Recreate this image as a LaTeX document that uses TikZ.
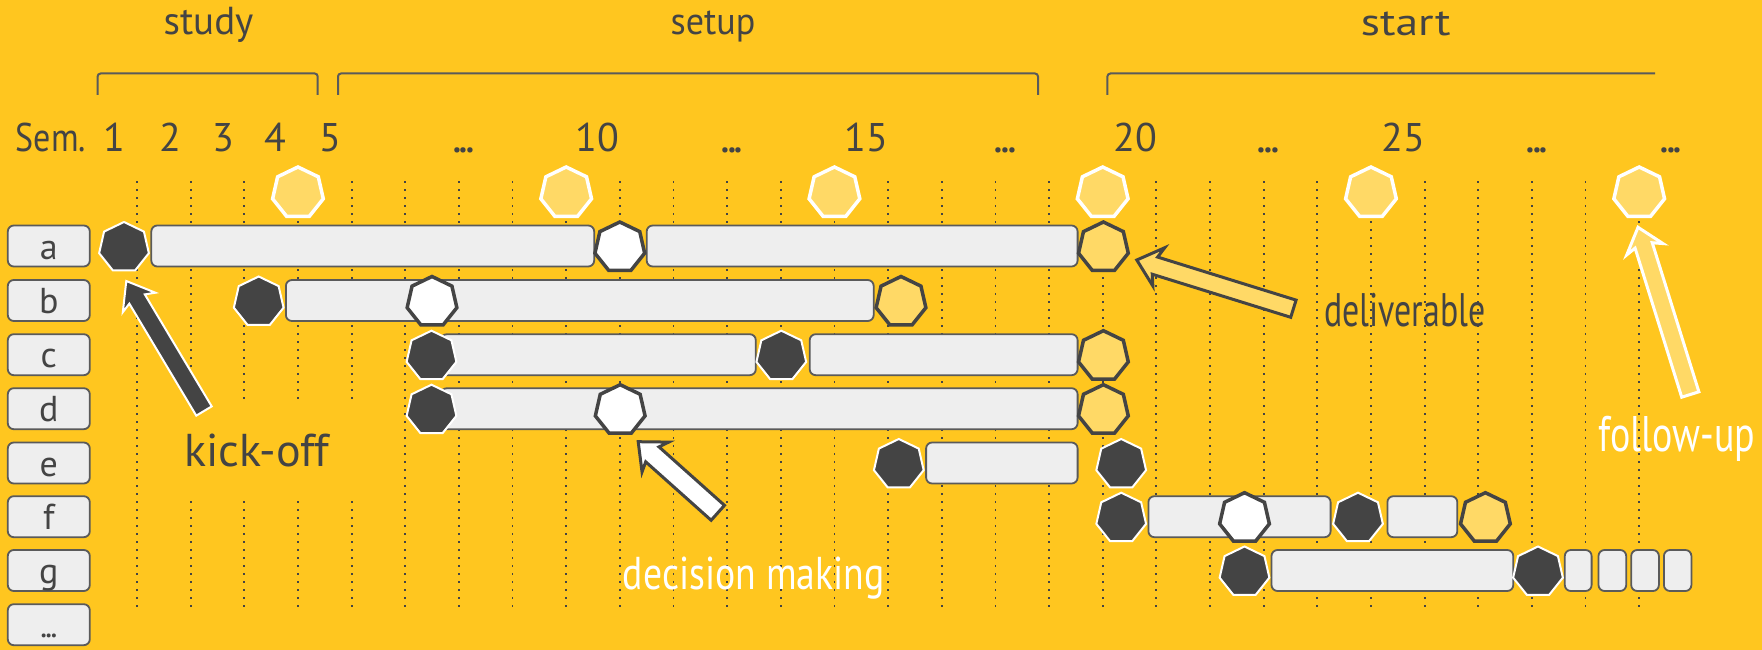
\documentclass[tikz,border=0pt]{standalone}
\usepackage{fontspec}
\usepackage{graphicx}
\setmainfont{PT Sans}
\usetikzlibrary{shapes.geometric,calc}
\definecolor{bg}{HTML}{FFC61F}
\definecolor{ly}{HTML}{FFD966}
\definecolor{dk}{HTML}{444444}
\definecolor{barfill}{HTML}{EEEEEE}
\definecolor{edge}{HTML}{5A5A5A}
\newcommand\myfs[1]{\fontsize{#1}{#1}\selectfont}
\newcommand\mydots[2]{{\myfs{#1}.\kern#2.\kern#2.}}
% block arrow: style, prefix (uses prefix-t tail, prefix-h tip), half shaft, half head, join dist, wing dist
\newcommand\blockarrow[6]{%
  \coordinate (#2-j) at ($(#2-h)!#5!(#2-t)$);
  \coordinate (#2-w) at ($(#2-h)!#6!(#2-t)$);
  \path[#1] ($(#2-t)!#3!90:(#2-h)$) -- ($(#2-j)!#3!90:(#2-h)$) -- ($(#2-w)!#4!90:(#2-h)$) -- (#2-h)
     -- ($(#2-w)!#4!-90:(#2-h)$) -- ($(#2-j)!#3!-90:(#2-h)$) -- ($(#2-t)!#3!-90:(#2-h)$) -- cycle;}
\begin{document}
\begin{tikzpicture}[x=1pt,y=-1pt,
 gridline/.style={draw=dk, line width=1.8pt, dash pattern=on 1.8pt off 6.2pt},
 brk/.style={draw=edge, line width=2pt, rounded corners=3pt},
 txt/.style={text=dk, inner sep=0pt},
 wtxt/.style={text=white, inner sep=0pt},
 lbl/.style={draw=edge, fill=barfill, line width=1.8pt, rounded corners=6pt, minimum width=82pt, minimum height=41pt, text height=26pt, text depth=0pt, inner sep=0pt, text=dk, font=\myfs{36}},
 bar/.style={draw=edge, fill=barfill, line width=1.8pt, rounded corners=6pt, minimum height=41pt, inner sep=0pt, anchor=west},
 hp/.style={regular polygon, regular polygon sides=7, minimum size=51pt, inner sep=0pt},
 hdark/.style={hp, fill=dk, draw=white, line width=2pt},
 hwhite/.style={hp, fill=white, draw=dk, line width=3.5pt},
 hyel/.style={hp, fill=ly, draw=dk, line width=3.5pt},
 htop/.style={hp, fill=ly, draw=white, line width=3.5pt, minimum size=52pt},
 akick/.style={fill=dk, draw=white, line width=2pt},
 adeliv/.style={fill=ly, draw=dk, line width=3pt},
 adecis/.style={fill=white, draw=dk, line width=3pt},
 afollow/.style={fill=ly, draw=white, line width=3pt}
]
\fill[bg] (0,0) rectangle (1762,650);
\useasboundingbox (0,0) rectangle (1762,650);

% grid
\foreach \k in {0,...,28}
  \draw[gridline] ({137+53.65*\k},181) -- ({137+53.65*\k},607);

% phase brackets
\draw[brk] (97.6,95) -- (97.6,73.5) -- (317.7,73.5) -- (317.7,95);
\draw[brk] (338,95) -- (338,73.5) -- (1038,73.5) -- (1038,95);
\draw[brk] (1107.4,95) -- (1107.4,73.5) -- (1655,73.5);

% phase titles
\node[txt, anchor=base] (pstudy) at (208.5,35) {\myfs{39}study};
\node[txt, anchor=base] (psetup) at (713,35) {\myfs{38}\scalebox{0.95}[1]{setup}};
\node[txt, anchor=base] (pstart) at (1405.7,36) {\myfs{38}\scalebox{1.2}[1]{start}};

% semester axis
\node[txt, anchor=base] (sem) at (51,152) {\myfs{40}\scalebox{0.85}[1]{Sem.}};
\foreach \n/\x in {1/114.8, 2/170, 3/223, 4/275.5, 5/330, 10/597, 15/866, 20/1135.6, 25/1403}
  \node[txt, anchor=base] (s\n) at (\x,152) {\myfs{40}\n};
\foreach \i/\x in {1/463.8, 2/732, 3/1005.5, 4/1268.6, 5/1537, 6/1671}
  \node[txt, anchor=base] (sd\i) at (\x,153) {\mydots{46}{-3pt}};

% top deliverable markers
\foreach \i/\k in {1/3, 2/8, 3/13, 4/18, 5/23, 6/28}
  \node[htop] (top\i) at ({137+53.65*\k},193) {};

% row labels
\node[lbl] (ra) at (48.8,246) {a};
\node[lbl] (rb) at (48.8,300.5) {b};
\node[lbl] (rc) at (48.8,354.7) {c};
\node[lbl] (rd) at (48.8,408.7) {d};
\node[lbl] (re) at (48.8,463) {e};
\node[lbl] (rf) at (48.8,516.7) {f};
\node[lbl] (rg) at (48.8,570.5) {g};
\node[lbl] (rh) at (48.8,624.7) {\mydots{34}{-2.2pt}};

% kick-off label (covers grid)
\node[txt, fill=bg, minimum width=220pt, minimum height=100pt] (lkick) at (257,450.5) {\myfs{46}kick-off};

% bars
\node[bar, minimum width=442.9pt] (ba1) at (150.4,246) {};
\node[bar, minimum width=430.9pt] (ba2) at (645.8,246) {};
\node[bar, minimum width=587.8pt] (bb1) at (285,300.5) {};
\node[bar, minimum width=314.9pt] (bc1) at (440,354.7) {};
\node[bar, minimum width=267.9pt] (bc2) at (808.8,354.7) {};
\node[bar, minimum width=636.7pt] (bd1) at (440,408.7) {};
\node[bar, minimum width=151.5pt] (be1) at (925.2,463) {};
\node[bar, minimum width=182.2pt] (bf1) at (1147.5,516.7) {};
\node[bar, minimum width=69.9pt] (bf2) at (1386.5,516.7) {};
\node[bar, minimum width=241.8pt] (bg1) at (1270.6,570.5) {};
\node[bar, minimum width=26.8pt] (bg2) at (1563.9,570.5) {};
\node[bar, minimum width=27.7pt] (bg3) at (1597.6,570.5) {};
\node[bar, minimum width=27.7pt] (bg4) at (1630.3,570.5) {};
\node[bar, minimum width=27.5pt] (bg5) at (1663,570.5) {};

% milestones
\node[hdark]  (ha1) at (124,247.5) {};
\node[hwhite] (ha2) at (619.8,247.5) {};
\node[hyel]   (ha3) at (1103.4,247.5) {};
\node[hdark]  (hb1) at (258.7,302) {};
\node[hwhite] (hb2) at (432,302) {};
\node[hyel]   (hb3) at (901,302) {};
\node[hdark]  (hc1) at (431.5,356.2) {};
\node[hdark]  (hc2) at (781.3,356.2) {};
\node[hyel]   (hc3) at (1103.4,356.2) {};
\node[hdark]  (hd1) at (431.5,410.2) {};
\node[hwhite] (hd2) at (620.2,410.2) {};
\node[hyel]   (hd3) at (1103.4,410.2) {};
\node[hdark]  (he1) at (898.8,464.5) {};
\node[hdark]  (he2) at (1121.2,464.5) {};
\node[hdark]  (hf1) at (1121.2,518.2) {};
\node[hwhite] (hf2) at (1244.5,518.2) {};
\node[hdark]  (hf3) at (1358,518.2) {};
\node[hyel]   (hf4) at (1485.4,518.2) {};
\node[hdark]  (hg1) at (1244.5,572) {};
\node[hdark]  (hg2) at (1538,572) {};

% annotation texts
\node[txt, anchor=base] (ldeliv) at (1405,326.7) {\myfs{47}\scalebox{0.72}[1]{deliverable}};
\node[wtxt, anchor=base] (ldecis) at (753.7,589.3) {\myfs{46}\scalebox{0.82}[1]{decision making}};
\node[wtxt, anchor=base] (lfollow) at (1677,451) {\myfs{50}\scalebox{0.76}[1]{follow-up}};

% annotation arrows
\coordinate (ak-t) at (204,411);      \coordinate (ak-h) at (126.3,281);
\coordinate (ad-t) at (1293.4,308.7); \coordinate (ad-h) at (1136.8,260);
\coordinate (am-t) at (717.8,512.8);  \coordinate (am-h) at (638.2,441.7);
\coordinate (af-t) at (1690.3,394.5); \coordinate (af-h) at (1638,227.3);
\blockarrow{akick}{ak}{9pt}{19pt}{21pt}{25pt}
\blockarrow{adeliv}{ad}{9pt}{20pt}{19pt}{23pt}
\blockarrow{adecis}{am}{10pt}{20pt}{19pt}{23pt}
\blockarrow{afollow}{af}{9pt}{19pt}{19pt}{23pt}
\end{tikzpicture}
\end{document}
